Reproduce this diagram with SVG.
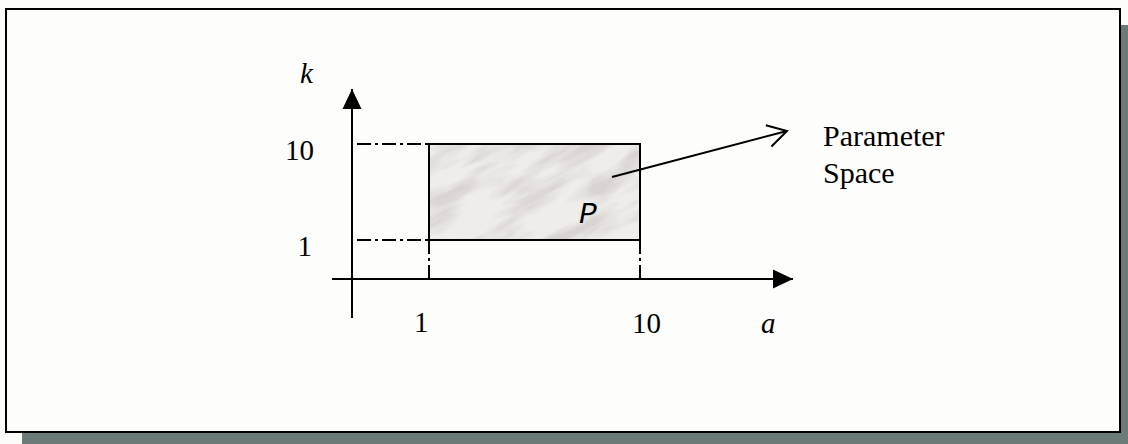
<svg xmlns="http://www.w3.org/2000/svg" width="1128" height="444" viewBox="0 0 1128 444">
<style>
.t{font-family:"Liberation Serif","Times New Roman",serif;font-size:29px;fill:#000}
.it{font-style:italic}
.ax{stroke:#000;stroke-width:2;fill:none}
.dd{stroke:#000;stroke-width:2;fill:none;stroke-dasharray:14 4 3 4}
</style>
<defs>
<marker id="tri" markerUnits="userSpaceOnUse" markerWidth="22" markerHeight="22" refX="20" refY="10" orient="auto">
<path d="M0,0.5 L20,10 L0,19.5 Z" fill="#000"/>
</marker>
<marker id="open" markerUnits="userSpaceOnUse" markerWidth="24" markerHeight="28" refX="21" refY="14" orient="auto">
<path d="M2,3 L21,14 L2,25" fill="none" stroke="#000" stroke-width="2"/>
</marker>
<filter id="marble" x="0" y="0" width="1" height="1">
<feTurbulence type="fractalNoise" baseFrequency="0.014 0.05" numOctaves="4" seed="11" result="n"/>
<feColorMatrix in="n" type="matrix" values="0 0 0 0 0.70  0 0 0 0 0.66  0 0 0 0 0.63  -3 0 0 0 1.85" result="c"/>
<feFlood flood-color="#eeedeb" result="bg"/>
<feComposite in="c" in2="bg" operator="over"/>
</filter>
<clipPath id="clipP"><rect x="429" y="144" width="211" height="96"/></clipPath>
</defs>
<rect x="0" y="0" width="1128" height="444" fill="#fcfcfa"/>
<g id="frame">
<rect x="1121" y="25" width="7" height="419" fill="#6b7b78"/>
<rect x="22" y="433" width="1106" height="11" fill="#6b7b78"/>
<rect x="6" y="9" width="1114" height="423" fill="#fdfdfb" stroke="#000" stroke-width="2"/>
</g>
<g id="parameter-space">
<g clip-path="url(#clipP)">
<g transform="rotate(-28 534 192)"><rect x="360" y="60" width="350" height="265" fill="#eeedeb" filter="url(#marble)"/></g>
</g>
<rect x="429" y="144" width="211" height="96" fill="none" stroke="#000" stroke-width="2"/>
<text class="t it" x="579" y="223" style="font-family:'Liberation Mono','Courier New',monospace;font-size:30px">P</text>
</g>
<g id="connectors">
<line class="ax" x1="352" y1="318" x2="352" y2="89" marker-end="url(#tri)"/>
<line class="ax" x1="332" y1="279" x2="793" y2="279" marker-end="url(#tri)"/>
<line class="dd" x1="357" y1="144" x2="429" y2="144"/>
<line class="dd" x1="357" y1="240" x2="429" y2="240"/>
<line class="dd" x1="429" y1="240" x2="429" y2="279"/>
<line class="dd" x1="640" y1="240" x2="640" y2="279"/>
<line class="ax" x1="612" y1="177" x2="787" y2="131" marker-end="url(#open)"/>
</g>
<g id="labels">
<text class="t it" x="300" y="83">k</text>
<text class="t" x="314" y="160" text-anchor="end">10</text>
<text class="t" x="312" y="256" text-anchor="end">1</text>
<text class="t" x="414" y="332">1</text>
<text class="t" x="632" y="333">10</text>
<text class="t it" x="761" y="333">a</text>
<text class="t" x="823" y="146" style="font-size:30px">Parameter</text>
<text class="t" x="823" y="183" style="font-size:30px">Space</text>
</g>
</svg>
